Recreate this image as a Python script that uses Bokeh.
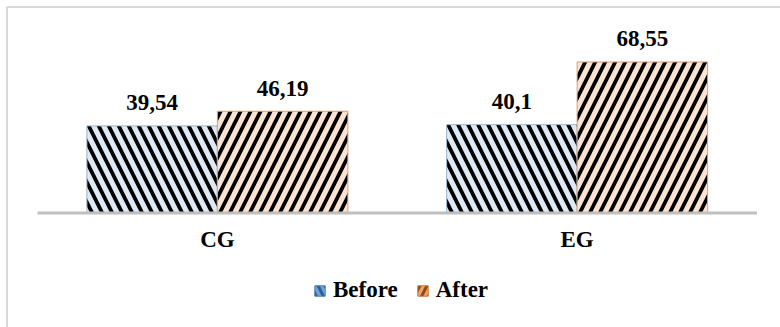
from bokeh.plotting import figure
from bokeh.models import Range1d, ColumnDataSource, Legend, LegendItem
from bokeh.core.properties import value
from bokeh.embed import file_html
from bokeh.resources import INLINE

# Data
groups = ["CG", "EG"]
before = [39.54, 40.1]
after = [46.19, 68.55]
before_labels = ["39,54", "40,1"]
after_labels = ["46,19", "68,55"]
series_names = ["Before", "After"]

W, H = 780, 327
# pixel geometry of the plotting area (category band and zero line)
CAT_PX = 359.75      # width of one category band
LEFT_PX = 37.0       # left end of the zero line
ZERO_PX = 212.5      # vertical position of the zero line
UNIT_PX = 2.2028     # pixels per value unit
BAR_PX = 130.5

def dx(px):
    return (px - LEFT_PX) / CAT_PX

def dy(py):
    return (ZERO_PX - py) / UNIT_PX

FONT_NAME = "Liberation Serif"
FONT = value(FONT_NAME)

p = figure(width=W, height=H, min_border=0, toolbar_location=None,
           output_backend="svg", x_axis_type=None, y_axis_type=None,
           x_range=Range1d(dx(0), dx(W)), y_range=Range1d(dy(H), dy(0)),
           outline_line_color=None, background_fill_color="white",
           border_fill_color="white")
p.grid.visible = False

bw = BAR_PX / CAT_PX
idx = list(range(len(groups)))
xb = [i + 0.5 - bw / 2 for i in idx]
xa = [i + 0.5 + bw / 2 for i in idx]

src_b = ColumnDataSource(dict(x=xb, top=before, lab=before_labels))
src_a = ColumnDataSource(dict(x=xa, top=after, lab=after_labels))

p.vbar(x="x", top="top", bottom=0, width=bw, source=src_b,
       fill_color="#dde9f5", line_color="#9fb6cc", line_width=1,
       hatch_pattern="left_diagonal_line", hatch_color="black",
       hatch_scale=20, hatch_weight=3.8)
p.vbar(x="x", top="top", bottom=0, width=bw, source=src_a,
       fill_color="#fbe3d3", line_color="#d2a07e", line_width=1,
       hatch_pattern="right_diagonal_line", hatch_color="black",
       hatch_scale=20, hatch_weight=3.8)

# zero line
p.segment(x0=[0], y0=[0], x1=[len(groups)], y1=[0],
          line_color="#bfbfbf", line_width=3)

# chart border (left and top)
p.segment(x0=[dx(6.5)], y0=[dy(6.5)], x1=[dx(6.5)], y1=[dy(H)],
          line_color="#d9d9d9", line_width=2)
p.segment(x0=[dx(6.5)], y0=[dy(6.5)], x1=[dx(W)], y1=[dy(6.5)],
          line_color="#d9d9d9", line_width=2)

# value labels
for src in (src_b, src_a):
    p.text(x="x", y="top", text="lab", source=src, text_font=FONT,
           text_font_size="23px", text_font_style="bold",
           text_align="center", text_baseline="alphabetic",
           y_offset=-23, text_color="black")

# category labels
p.text(x=[i + 0.5 for i in idx], y=[0] * len(groups), text=groups,
       text_font=FONT, text_font_size="23px", text_font_style="bold",
       text_align="center", text_baseline="alphabetic", y_offset=26,
       text_color="black")

# legend swatches: bars placed far outside the visible ranges
off = dict(x=[dx(-2000)], top=[dy(3000)], bottom=[dy(3100)])
sw_b = p.vbar(x="x", top="top", bottom="bottom", width=0.01,
              source=ColumnDataSource(off),
              fill_color="#6fa4dc", line_color="#4a7fb5", line_width=1,
              hatch_pattern="left_diagonal_line", hatch_color="#2f5f8f",
              hatch_scale=14, hatch_weight=3)
sw_a = p.vbar(x="x", top="top", bottom="bottom", width=0.01,
              source=ColumnDataSource(off),
              fill_color="#f2a266", line_color="#c9783c", line_width=1,
              hatch_pattern="right_diagonal_line", hatch_color="#8a4a1e",
              hatch_scale=14, hatch_weight=3)

legend = Legend(items=[LegendItem(label=series_names[0], renderers=[sw_b]),
                       LegendItem(label=series_names[1], renderers=[sw_a])],
                orientation="horizontal", location=(313, 24),
                padding=0, margin=0, spacing=18, label_standoff=7,
                glyph_width=13, glyph_height=13,
                label_text_font=FONT_NAME, label_text_font_size="23px",
                label_text_font_style="bold", label_text_color="black",
                border_line_color=None, background_fill_alpha=0)
p.add_layout(legend)

open("out.html", "w").write(file_html(p, INLINE))
